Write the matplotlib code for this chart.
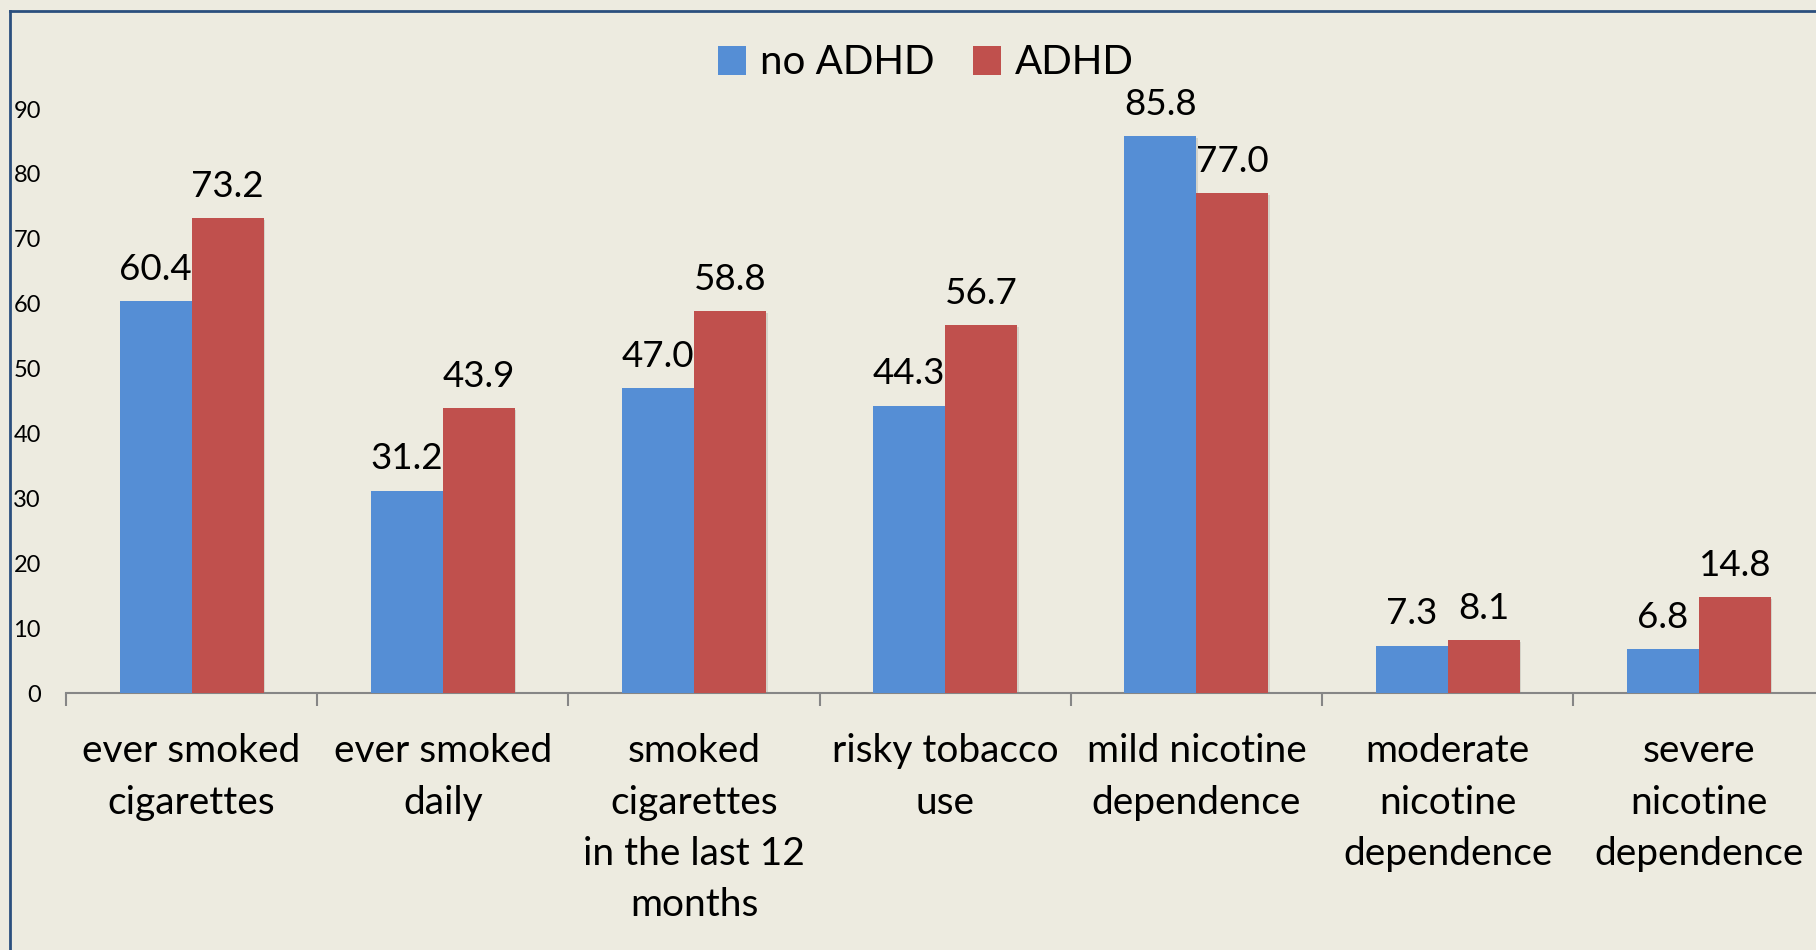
import matplotlib
matplotlib.use("Agg")
import matplotlib.pyplot as plt
from matplotlib.lines import Line2D
import numpy as np

categories = ["ever smoked\ncigarettes", "ever smoked\ndaily",
              "smoked\ncigarettes\nin the last 12\nmonths", "risky tobacco\nuse",
              "mild nicotine\ndependence", "moderate\nnicotine\ndependence",
              "severe\nnicotine\ndependence"]
no_adhd = [60.4, 31.2, 47.0, 44.3, 85.8, 7.3, 6.8]
adhd = [73.2, 43.9, 58.8, 56.7, 77.0, 8.1, 14.8]
series_names = ["no ADHD", "ADHD"]
yticks = [0, 10, 20, 30, 40, 50, 60, 70, 80, 90]

BG = "#EDEBE0"
BLUE = "#558ED5"
RED = "#C0504D"
FONT = "Lato"

W, H = 1816, 950
fig = plt.figure(figsize=(W / 100, H / 100), dpi=100, facecolor=BG)
plt.rcParams['font.family'] = [FONT, 'DejaVu Sans']

left_px, right_px = 66, 66 + 7 * 251.2
bot_px, top_px = 693, 109
ax = fig.add_axes([left_px / W, 1 - bot_px / H, (right_px - left_px) / W, (bot_px - top_px) / H])
ax.set_facecolor(BG)
ax.patch.set_alpha(0)

x = np.arange(len(categories))
bw = 0.287
b1 = ax.bar(x - bw / 2, no_adhd, bw, color=BLUE, label=series_names[0], zorder=3)
b2 = ax.bar(x + bw / 2, adhd, bw, color=RED, label=series_names[1], zorder=3)

# subtle shadows
for bars in (b1, b2):
    for r in bars:
        sh = plt.Rectangle((r.get_x() + 0.006, 0), r.get_width(), r.get_height() - 0.3,
                           color="#000000", alpha=0.10, zorder=2, lw=0)
        ax.add_patch(sh)

for xi, v in zip(x, no_adhd):
    ax.annotate(f"{v:.1f}", (xi - bw / 2, v), xytext=(0, 11), textcoords="offset points",
                ha="center", va="bottom", fontsize=26.5, family=FONT, annotation_clip=False)
for xi, v in zip(x, adhd):
    ax.annotate(f"{v:.1f}", (xi + bw / 2, v), xytext=(0, 11), textcoords="offset points",
                ha="center", va="bottom", fontsize=26.5, family=FONT, annotation_clip=False)

ax.set_xlim(-0.5, 6.5)
ax.set_ylim(0, 90)
ax.set_yticks(yticks)
ax.set_yticklabels([str(t) for t in yticks], fontsize=17, family=FONT)
ax.tick_params(axis="y", length=0, pad=18)

ax.set_xticks(np.arange(-0.5, 7.0, 1.0))
ax.set_xticklabels([])
ax.tick_params(axis="x", direction="out", length=9, width=1.5, color="#868686")
ax.set_xticks(x, minor=True)
ax.set_xticklabels(categories, minor=True, fontsize=28, family=FONT, linespacing=1.53)
ax.tick_params(axis="x", which="minor", length=0, pad=29)

for s in ["top", "right", "left"]:
    ax.spines[s].set_visible(False)
ax.spines["bottom"].set_color("#868686")
ax.spines["bottom"].set_linewidth(1.5)

leg = fig.legend(handles=[b1, b2], labels=series_names, loc="center",
                 bbox_to_anchor=(926 / W, 1 - 63 / H), ncol=2, frameon=False,
                 handlelength=0.7, handleheight=0.7,
                 handletextpad=0.35, columnspacing=0.95, prop={'family': FONT, 'size': 29})

# frame border (left and top)
fig.add_artist(Line2D([10 / W, 10 / W], [0, 1 - 11 / H], transform=fig.transFigure,
                      color="#2B4F7E", lw=2))
fig.add_artist(Line2D([10 / W, 1], [1 - 11 / H, 1 - 11 / H], transform=fig.transFigure,
                      color="#2B4F7E", lw=2))

fig.savefig("out.png", dpi=100, facecolor=BG)
